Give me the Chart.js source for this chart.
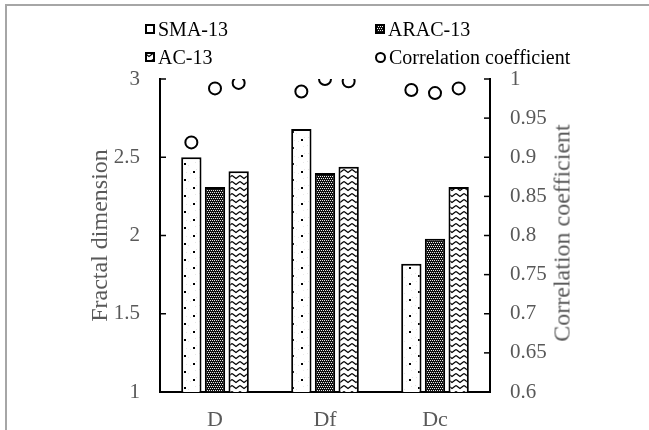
<!DOCTYPE html>
<html>
<head>
<meta charset="utf-8">
<script src="https://cdn.jsdelivr.net/npm/chart.js@4/dist/chart.umd.min.js"></script>
<style>
  html, body { margin: 0; padding: 0; background: #fff; }
  #wrap { position: relative; width: 649px; height: 430px; overflow: hidden; }
  #frame { position: absolute; left: 5px; top: 4px; width: 700px; height: 500px;
           border-top: 2px solid #a6a6a6; border-left: 2px solid #a6a6a6; }
  #chart { position: absolute; left: 0; top: 0; }
  .lg { position: absolute; font-family: "Liberation Serif", serif; font-size: 20px;
        color: #000; line-height: 20px; white-space: nowrap; }
  .lg canvas, .lg span.dot { display: inline-block; vertical-align: middle; margin-right: 3px; position: relative; top: -2px; }
  .lg span.dot { width: 7px; height: 7px; border: 2px solid #000; border-radius: 50%; }
  #rtitle { position: absolute; left: 562px; top: 233px; font-family: "Liberation Serif", serif;
            font-size: 24px; color: #595959; white-space: nowrap;
            transform: translate(-50%, -50%) rotate(-90deg); }
</style>
</head>
<body>
<div id="wrap">
  <div id="frame"></div>
  <canvas id="chart" width="649" height="430"></canvas>
  <div class="lg" style="left:145px; top:19px;"><canvas id="lg0" width="10" height="10"></canvas>SMA-13</div>
  <div class="lg" style="left:375px; top:19px;"><canvas id="lg1" width="10" height="10"></canvas>ARAC-13</div>
  <div class="lg" style="left:145px; top:47px;"><canvas id="lg2" width="10" height="10"></canvas>AC-13</div>
  <div class="lg" style="left:375px; top:47px;"><span class="dot"></span>Correlation coefficient</div>
  <div id="rtitle">Correlation coefficient</div>
</div>
<script>
// data
const categories = ['D', 'Df', 'Dc'];
const seriesNames = ['SMA-13', 'ARAC-13', 'AC-13'];
const sma13 = [2.50, 2.68, 1.82];
const arac13 = [2.31, 2.40, 1.98];
const ac13 = [2.41, 2.44, 2.31];
// correlation coefficient, one value per bar
const corrSMA = [0.919, 0.984, 0.986];
const corrARAC = [0.988, 1.000, 0.982];
const corrAC = [0.995, 0.997, 0.988];
const leftTicks = [1, 1.5, 2, 2.5, 3];
const rightTicks = [0.6, 0.65, 0.7, 0.75, 0.8, 0.85, 0.9, 0.95, 1];

const FONT = 'Liberation Serif';
const GREY = '#595959';
const slot = 0.215;     // distance between neighbouring bars, in category units
const barPct = 0.86;

function makePattern(w, h, draw) {
    const c = document.createElement('canvas');
    c.width = w;
    c.height = h;
    const g = c.getContext('2d');
    draw(g);
    return g.createPattern(c, 'repeat');
}

// dotted fill
const dotPattern = makePattern(18, 16, g => {
    g.fillStyle = '#fff';
    g.fillRect(0, 0, 18, 16);
    g.fillStyle = '#e6e6e6';
    [[1, 1], [8, 5], [15, 2], [2, 9], [10, 13], [16, 9], [6, 12]].forEach(p => g.fillRect(p[0], p[1], 1, 1));
    g.fillStyle = '#000';
    g.fillRect(4, 3, 2, 2);
    g.fillRect(13, 11, 2, 2);
});

// dark lattice fill
const gridPattern = makePattern(4, 4, g => {
    g.fillStyle = '#111';
    g.fillRect(0, 0, 4, 4);
    g.fillStyle = '#eee';
    g.fillRect(0, 0, 1, 1);
    g.fillRect(2, 0, 1, 1);
    g.fillRect(1, 2, 1, 1);
    g.fillRect(3, 2, 1, 1);
});

// zigzag fill
const zigPattern = makePattern(8, 6, g => {
    g.fillStyle = '#fff';
    g.fillRect(0, 0, 8, 6);
    g.strokeStyle = '#000';
    g.lineWidth = 1.3;
    g.beginPath();
    g.moveTo(0, 1.5);
    g.lineTo(4, 4.5);
    g.lineTo(8, 1.5);
    g.stroke();
});

const fills = [dotPattern, gridPattern, zigPattern];
const barValues = [sma13, arac13, ac13];
const corrValues = [corrSMA, corrARAC, corrAC];

// legend swatches
fills.forEach((f, i) => {
    const g = document.getElementById('lg' + i).getContext('2d');
    g.fillStyle = i === 0 ? '#fff' : f;
    g.fillRect(1, 1, 8, 8);
    g.strokeStyle = '#000';
    g.lineWidth = 2;
    g.strokeRect(1, 1, 8, 8);
});

// every mark sits at category index + its series slot
const corrPoints = [];
categories.forEach((c, i) => {
    corrValues.forEach((arr, j) => {
        corrPoints.push({ x: i + (j - 1) * slot, y: arr[i] });
    });
});

const innerTicks = {
    id: 'innerTicks',
    afterDraw(chart) {
        const ctx = chart.ctx;
        ctx.save();
        ctx.strokeStyle = '#000';
        ctx.lineWidth = 1.5;
        const y = chart.scales.y;
        leftTicks.forEach(v => {
            const p = y.getPixelForValue(v);
            ctx.beginPath();
            ctx.moveTo(y.right, p);
            ctx.lineTo(y.right + 6, p);
            ctx.stroke();
        });
        const y2 = chart.scales.y2;
        rightTicks.forEach(v => {
            const p = y2.getPixelForValue(v);
            ctx.beginPath();
            ctx.moveTo(y2.left - 6, p);
            ctx.lineTo(y2.left, p);
            ctx.stroke();
        });
        ctx.restore();
    }
};

const datasets = [{
    type: 'line',
    label: 'Correlation coefficient',
    data: corrPoints,
    yAxisID: 'y2',
    showLine: false,
    pointRadius: 6,
    pointBorderWidth: 2,
    pointBorderColor: '#000',
    pointBackgroundColor: '#fff'
}];
seriesNames.forEach((name, j) => {
    datasets.push({
        type: 'bar',
        label: name,
        data: categories.map((c, i) => ({ x: i + (j - 1) * slot, y: barValues[j][i] })),
        yAxisID: 'y',
        backgroundColor: fills[j],
        borderColor: '#000',
        borderWidth: 2,
        grouped: false,
        categoryPercentage: 1,
        barPercentage: barPct
    });
});

new Chart(document.getElementById('chart'), {
    type: 'bar',
    data: { datasets: datasets },
    options: {
        responsive: false,
        animation: false,
        layout: { padding: { left: 82, right: 69, top: 79, bottom: 0 } },
        plugins: { legend: { display: false }, tooltip: { enabled: false } },
        scales: {
            x: {
                type: 'linear',
                position: 'bottom',
                offset: false,
                min: -0.5,
                max: categories.length - 0.5,
                afterFit(s) { s.height = 38; },
                afterBuildTicks(s) { s.ticks = categories.map((c, i) => ({ value: i })); },
                grid: { drawOnChartArea: false, drawTicks: false },
                border: { color: '#000', width: 2 },
                ticks: {
                    color: GREY, padding: 15, font: { family: FONT, size: 22 },
                    callback: v => categories[v]
                }
            },
            y: {
                position: 'left',
                min: 1,
                max: 3,
                afterFit(s) { s.width = 78; },
                afterBuildTicks(s) { s.ticks = leftTicks.map(v => ({ value: v })); },
                grid: { drawOnChartArea: false, drawTicks: false },
                border: { color: '#000', width: 2 },
                ticks: { color: GREY, padding: 20, font: { family: FONT, size: 21 }, callback: v => String(v) },
                title: { display: true, text: 'Fractal dimension', color: GREY, font: { family: FONT, size: 24 } }
            },
            y2: {
                position: 'right',
                min: 0.6,
                max: 1,
                afterFit(s) { s.width = 90; },
                afterBuildTicks(s) { s.ticks = rightTicks.map(v => ({ value: v })); },
                grid: { drawOnChartArea: false, drawTicks: false },
                border: { color: '#000', width: 2 },
                ticks: { color: GREY, padding: 20, font: { family: FONT, size: 21 }, callback: v => String(v) }
            }
        }
    },
    plugins: [innerTicks]
});
</script>
</body>
</html>
